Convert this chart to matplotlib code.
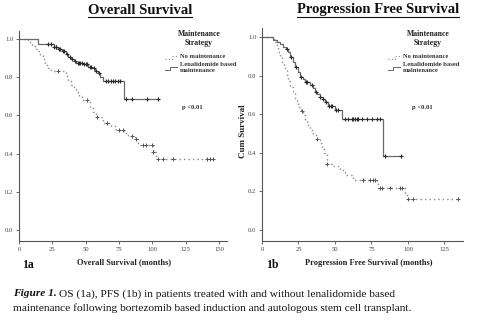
import numpy as np
import matplotlib
matplotlib.use("Agg")
import matplotlib.pyplot as plt
from matplotlib.lines import Line2D

plt.rcParams['font.family'] = ['Liberation Serif', 'DejaVu Serif']

# ---------------- data ----------------
# Overall survival, lenalidomide maintenance
os_len_t = [0, 14.5, 26, 29, 32, 35, 37, 39, 41, 43, 48, 52, 55, 57, 59, 61, 63, 79, 105]
os_len_s = [1.0, 0.974, 0.96, 0.947, 0.935, 0.921, 0.905, 0.895, 0.885, 0.875, 0.868, 0.855,
            0.846, 0.833, 0.82, 0.80, 0.781, 0.684, 0.684]
os_len_c = [22, 24, 26.5, 27.5, 28, 30, 31, 33, 34, 36, 38, 40, 42, 44, 45, 46, 47, 49, 50, 51,
            53, 54, 56, 58, 60, 65, 67, 69, 70.5, 72, 74, 76, 80, 84.5, 95.7, 104.5]

# Overall survival, no maintenance
os_no_t = [0, 7, 10, 12, 14, 16, 18, 19.5, 21, 24, 35, 37, 39, 41, 43, 45, 47, 53, 55.5, 58, 63,
           69, 73, 79, 82, 87, 89.5, 91, 100.5, 102.5, 146]
os_no_s = [1.0, 0.985, 0.965, 0.95, 0.935, 0.915, 0.895, 0.87, 0.85, 0.83, 0.805, 0.78, 0.76,
           0.74, 0.72, 0.70, 0.68, 0.64, 0.62, 0.59, 0.56, 0.544, 0.526, 0.509, 0.491, 0.474,
           0.455, 0.444, 0.41, 0.37, 0.37]
os_no_c = [29.5, 50.8, 58.5, 66.3, 75.3, 77.8, 84.5, 88, 92.8, 95.3, 99.5, 100.8, 104.5, 108.3,
           115.8, 140.8, 143.3, 145.8]

# Progression free survival, lenalidomide maintenance
pfs_len_t = [0, 7.8, 10, 12.5, 14.6, 16.5, 18, 19.2, 21, 22.6, 24.9, 26, 28, 29.5, 32.9, 35,
             36.3, 38, 39.7, 41.5, 43.2, 45.4, 50, 54.6, 83.1, 96]
pfs_len_s = [1.0, 0.985, 0.976, 0.963, 0.95, 0.937, 0.924, 0.898, 0.872, 0.846, 0.82, 0.795,
             0.782, 0.769, 0.752, 0.735, 0.717, 0.704, 0.691, 0.678, 0.665, 0.643, 0.622, 0.575,
             0.384, 0.384]
pfs_len_c = [17, 20, 23, 27, 30, 31, 34, 37, 40, 42, 44, 46, 47, 48, 51, 52, 56.8, 58.9, 61.4,
             62.5, 63.7, 64.8, 65.9, 68.3, 71.7, 75.1, 78.6, 80.8, 84, 95.5]

# Progression free survival, no maintenance
pfs_no_t = [0, 8.5, 10, 11.2, 12.5, 13.5, 15, 16.9, 18, 19.2, 21, 22.6, 24, 24.9, 26.5, 28,
            29.5, 31, 32.9, 35, 37, 39.5, 40.9, 42.5, 44.3, 48.8, 53.4, 56.8, 62.6, 78.6, 79.7,
            98, 99, 134.5]
pfs_no_s = [1.0, 0.975, 0.95, 0.924, 0.898, 0.872, 0.838, 0.803, 0.773, 0.743, 0.712, 0.682,
            0.66, 0.639, 0.617, 0.596, 0.57, 0.544, 0.52, 0.5, 0.47, 0.453, 0.42, 0.398, 0.343,
            0.33, 0.31, 0.286, 0.26, 0.243, 0.22, 0.19, 0.163, 0.163]
pfs_no_c = [27.2, 38, 44.3, 69.4, 74, 75.8, 77.4, 80.8, 82, 87.7, 94.5, 95.7, 99.8, 103.6, 134.5]

os_xticks = [0, 25, 50, 75, 100, 125, 150]
pfs_xticks = [0, 25, 50, 75, 100, 125]
yticks = [0.0, 0.2, 0.4, 0.6, 0.8, 1.0]

W, H = 489, 321
fig = plt.figure(figsize=(W / 100, H / 100), dpi=100)


def fx(px):
    return px / W


def fy(py):
    return 1 - py / H


def surv_at(t, s, c):
    t = np.asarray(t)
    s = np.asarray(s)
    idx = np.searchsorted(t, np.asarray(c), side='right') - 1
    return s[idx]


LEN_COL = '#6a6a6a'
NO_COL = '#8a8a8a'
MK_COL = '#2a2a2a'


def draw_panel(ax, len_t, len_s, len_c, no_t, no_s, no_c, xticks, xlim, ylim):
    ax.step(no_t, no_s, where='post', color=NO_COL, lw=1.0, linestyle=(0, (1, 2.2)))
    ax.plot(no_c, surv_at(no_t, no_s, no_c), linestyle='none', marker='+', ms=3.2,
            mew=0.7, color='#555555')
    ax.step(len_t, len_s, where='post', color=LEN_COL, lw=0.9)
    ax.plot(len_c, surv_at(len_t, len_s, len_c), linestyle='none', marker='+', ms=3.2,
            mew=0.8, color=MK_COL)
    ax.set_xlim(*xlim)
    ax.set_ylim(*ylim)
    ax.set_xticks(xticks)
    ax.set_yticks(yticks)
    ax.set_yticklabels([f"{v:.1f}" for v in yticks])
    for sp in ['top', 'right']:
        ax.spines[sp].set_visible(False)
    for sp in ['left', 'bottom']:
        ax.spines[sp].set_color('#555555')
        ax.spines[sp].set_linewidth(0.8)
    ax.tick_params(axis='both', labelsize=4.8, colors='#555555', length=2.5, width=0.6,
                   pad=1.5)
    for lab in ax.get_xticklabels() + ax.get_yticklabels():
        lab.set_color('#444444')
    ax.set_facecolor('white')


ax1 = fig.add_axes([fx(19), fy(241), fx(226.7 - 19), (241 - 31) / H])
draw_panel(ax1, os_len_t, os_len_s, os_len_c, os_no_t, os_no_s, os_no_c,
           os_xticks, (0, 155.8), (-0.058, 1.042))

ax2 = fig.add_axes([fx(262), fy(241), fx(462.7 - 262), (241 - 28) / H])
draw_panel(ax2, pfs_len_t, pfs_len_s, pfs_len_c, pfs_no_t, pfs_no_s, pfs_no_c,
           pfs_xticks, (0, 137.5), (-0.057, 1.047))

# titles with underline
fig.canvas.draw()
renderer = fig.canvas.get_renderer()
for txt, cx in [("Overall Survival", 140), ("Progression Free Survival", 378)]:
    t = fig.text(fx(cx), fy(10), txt, ha='center', va='center', fontsize=10.5,
                 fontweight='bold', color='#111111')
    bb = t.get_window_extent(renderer=renderer)
    x0, x1 = bb.x0 / W, bb.x1 / W
    yl = bb.y0 / H - 0.6 / H
    fig.add_artist(Line2D([x0, x1], [yl, yl], color='#111111', lw=0.8,
                          transform=fig.transFigure))

# axis labels
fig.text(fx(124.5), fy(262.5), "Overall Survival (months)", ha='center', va='center',
         fontsize=6, fontweight='bold', color='#222222')
fig.text(fx(369), fy(263), "Progression Free Survival (months)", ha='center', va='center',
         fontsize=6, fontweight='bold', color='#222222')
fig.text(fx(243), fy(131), "Cum Survival", ha='center', va='center', rotation=90,
         fontsize=6.5, fontweight='bold', color='#222222')
fig.text(fx(22), fy(265), "1a", ha='left', va='center', fontsize=8.5, fontweight='bold',
         color='#111111')
fig.text(fx(266), fy(265), "1b", ha='left', va='center', fontsize=8.5, fontweight='bold',
         color='#111111')


# legends
def legend(xc, xs, xt):
    fig.text(fx(xc), fy(34), "Maintenance", ha='center', va='center', fontsize=5.6,
             fontweight='bold', color='#222222')
    fig.text(fx(xc), fy(43), "Strategy", ha='center', va='center', fontsize=5.6,
             fontweight='bold', color='#222222')
    fig.add_artist(Line2D([fx(xs), fx(xs + 7), fx(xs + 7), fx(xs + 12)],
                          [fy(59), fy(59), fy(56), fy(56)], color=NO_COL, lw=0.8,
                          linestyle=(0, (1, 2)), transform=fig.transFigure))
    fig.add_artist(Line2D([fx(xs), fx(xs + 5), fx(xs + 5), fx(xs + 12)],
                          [fy(70), fy(70), fy(67), fy(67)], color=LEN_COL, lw=0.7,
                          transform=fig.transFigure))
    fig.text(fx(xt), fy(57), "No maintenance", ha='left', va='center', fontsize=4.7,
             fontweight='bold', color='#333333')
    fig.text(fx(xt), fy(65), "Lenalidomide based", ha='left', va='center', fontsize=4.7,
             fontweight='bold', color='#333333')
    fig.text(fx(xt), fy(71), "maintenance", ha='left', va='center', fontsize=4.7,
             fontweight='bold', color='#333333')


legend(199, 165, 180)
legend(428, 388, 403)
fig.text(fx(182), fy(108), "p <0.01", ha='left', va='center', fontsize=4.8,
         fontweight='bold', color='#333333')
fig.text(fx(412), fy(108), "p <0.01", ha='left', va='center', fontsize=4.8,
         fontweight='bold', color='#333333')

# caption
t1 = fig.text(fx(13), fy(294), "Figure 1.", ha='left', va='center', fontsize=8.2,
              fontweight='bold', fontstyle='italic', color='#111111')
bb = t1.get_window_extent(renderer=renderer)
fig.text(bb.x1 / W + 2.5 / W, fy(294),
         "OS (1a), PFS (1b) in patients treated with and without lenalidomide based",
         ha='left', va='center', fontsize=8.2, color='#111111')
fig.text(fx(13), fy(308),
         "maintenance following bortezomib based induction and autologous stem cell transplant.",
         ha='left', va='center', fontsize=8.2, color='#111111')

fig.savefig("out.png", dpi=100, facecolor='white')
